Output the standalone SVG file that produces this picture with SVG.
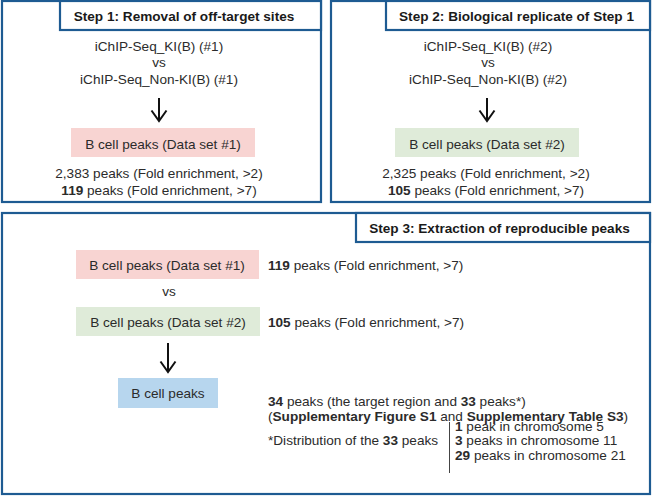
<svg xmlns="http://www.w3.org/2000/svg" width="652" height="497" viewBox="0 0 652 497">
<style>
.frame{fill:#ffffff;stroke:#1e5b92;stroke-width:2.2}
.t{font-family:"Liberation Sans",Arial,sans-serif;font-size:13.6px;fill:#2b2b2b}
.h{font-family:"Liberation Sans",Arial,sans-serif;font-size:13.6px;font-weight:bold;fill:#1a1a1a}
.c{text-anchor:middle}
.b{font-weight:bold}
.arrow{stroke:#111;stroke-width:2;fill:none}
.pink{fill:#f8d4d2}
.green{fill:#dfebd9}
.blue{fill:#b7d6ee}
</style>
<defs>
<marker id="head" viewBox="0 0 14 18" refX="12" refY="9" markerWidth="14" markerHeight="18" markerUnits="userSpaceOnUse" orient="auto">
<path d="M1.5,1.5 L12,9 L1.5,16.5" fill="none" stroke="#111" stroke-width="2"/>
</marker>
</defs>
<rect width="652" height="497" fill="#ffffff"/>

<g id="step1">
<rect class="frame" x="2" y="1" width="319" height="201"/>
<rect class="frame" x="60" y="1" width="261" height="29"/>
<text class="h c" x="184" y="20.5">Step 1: Removal of off-target sites</text>
<text class="t c" x="159" y="51">iChIP-Seq_KI(B) (#1)</text>
<text class="t c" x="159" y="67">vs</text>
<text class="t c" x="159" y="84">iChIP-Seq_Non-KI(B) (#1)</text>
</g>
<g id="ds1">
<rect class="pink" x="71" y="128" width="184" height="29"/>
<text class="t c" x="163" y="148.5">B cell peaks (Data set #1)</text>
<text class="t c" x="159" y="178">2,383 peaks (Fold enrichment, &gt;2)</text>
<text class="t c" x="159" y="195"><tspan class="b">119</tspan> peaks (Fold enrichment, &gt;7)</text>
</g>

<g id="step2">
<rect class="frame" x="331" y="1" width="319" height="201"/>
<rect class="frame" x="386" y="1" width="264" height="29"/>
<text class="h c" x="516.5" y="20.5">Step 2: Biological replicate of Step 1</text>
<text class="t c" x="488" y="51">iChIP-Seq_KI(B) (#2)</text>
<text class="t c" x="488" y="67">vs</text>
<text class="t c" x="488" y="84">iChIP-Seq_Non-KI(B) (#2)</text>
</g>
<g id="ds2">
<rect class="green" x="395" y="128" width="184" height="29"/>
<text class="t c" x="487" y="148.5">B cell peaks (Data set #2)</text>
<text class="t c" x="486" y="178">2,325 peaks (Fold enrichment, &gt;2)</text>
<text class="t c" x="486" y="195"><tspan class="b">105</tspan> peaks (Fold enrichment, &gt;7)</text>
</g>

<g id="step3">
<rect class="frame" x="2" y="213" width="648" height="281"/>
<rect class="frame" x="356" y="213" width="294" height="29"/>
<text class="h c" x="499.5" y="233">Step 3: Extraction of reproducible peaks</text>
</g>
<g id="s3ds1">
<rect class="pink" x="76" y="250" width="183" height="29"/>
<text class="t c" x="167" y="270">B cell peaks (Data set #1)</text>
<text class="t" x="268" y="270"><tspan class="b">119</tspan> peaks (Fold enrichment, &gt;7)</text>
</g>
<text class="t c" x="169" y="296">vs</text>
<g id="s3ds2">
<rect class="green" x="76" y="307" width="184" height="29"/>
<text class="t c" x="168" y="326.5">B cell peaks (Data set #2)</text>
<text class="t" x="268" y="326.5"><tspan class="b">105</tspan> peaks (Fold enrichment, &gt;7)</text>
</g>
<g id="bcell">
<rect class="blue" x="118" y="378" width="100" height="30"/>
<text class="t c" x="168" y="398">B cell peaks</text>
<text class="t" x="268" y="406"><tspan class="b">34</tspan> peaks (the target region and <tspan class="b">33</tspan> peaks*)</text>
<text class="t" x="268" y="421">(<tspan class="b">Supplementary Figure S1</tspan> and <tspan class="b">Supplementary Table S3</tspan>)</text>
<text class="t" x="268" y="445">*Distribution of the <tspan class="b">33</tspan> peaks</text>
<line x1="449.5" y1="422" x2="449.5" y2="473" stroke="#444" stroke-width="1"/>
<text class="t" x="455" y="430.5"><tspan class="b">1</tspan> peak in chromosome 5</text>
<text class="t" x="455" y="445"><tspan class="b">3</tspan> peaks in chromosome 11</text>
<text class="t" x="455" y="459.5"><tspan class="b">29</tspan> peaks in chromosome 21</text>
</g>

<g id="connectors">
<line class="arrow" x1="159" y1="98" x2="159" y2="121" marker-end="url(#head)"/>
<line class="arrow" x1="487" y1="98" x2="487" y2="121" marker-end="url(#head)"/>
<line class="arrow" x1="168" y1="343" x2="168" y2="372" marker-end="url(#head)"/>
</g>
</svg>
